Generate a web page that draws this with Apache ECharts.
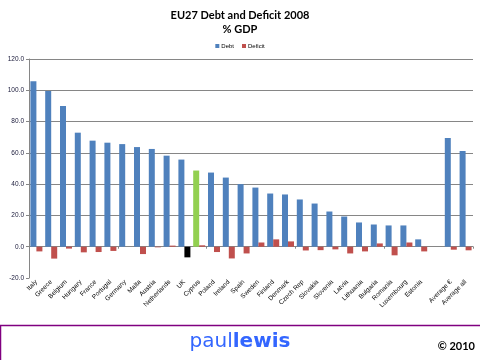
<!DOCTYPE html>
<html><head><meta charset="utf-8">
<script src="https://cdn.jsdelivr.net/npm/echarts@6/dist/echarts.min.js"></script>
<style>html,body{margin:0;padding:0;background:#fff}#c{width:480px;height:360px}</style>
</head><body><div id="c"></div>
<script>
var categories = ['Italy','Greece','Belgium','Hungary','France','Portugal','Germany','Malta','Austria','Netherlands','UK','Cyprus','Poland','Ireland','Spain','Sweden','Finland','Denmark','Czech Rep','Slovakia','Slovenia','Latvia','Lithuania','Bulgaria','Romania','Luxembourg','Estonia','','Average €','Average all'];
var debt = [105.8, 99.6, 89.9, 72.9, 67.8, 66.5, 65.6, 63.7, 62.5, 58.2, 55.7, 48.7, 47.4, 44.2, 40.0, 37.8, 34.0, 33.4, 30.2, 27.6, 22.5, 19.3, 15.5, 14.2, 13.6, 13.6, 4.7, null, 69.5, 61.2];
var deficit = [-3.0, -7.6, -1.2, -3.6, -3.4, -2.7, 0.0, -4.7, -0.4, 0.7, -6.8, 0.9, -3.4, -7.5, -4.3, 2.7, 4.7, 3.4, -2.4, -2.2, -1.7, -4.3, -3.0, 2.1, -5.5, 2.7, -3.0, null, -1.9, -2.3];
var yTicks = {min: -20, max: 120, interval: 20};

var debtData = debt.map(function(v, i){
  return categories[i] === 'Cyprus' ? {value: v, itemStyle: {color: '#92D050'}} : v;
});
var deficitData = deficit.map(function(v, i){
  return categories[i] === 'UK' ? {value: v, itemStyle: {color: '#000000'}} : v;
});
var gridColors = [];
for (var t = yTicks.min; t <= yTicks.max; t += yTicks.interval) gridColors.push(t === yTicks.min ? 'rgba(0,0,0,0)' : '#868686');

var chart = echarts.init(document.getElementById('c'));
chart.setOption({
  animation: false,
  title: {
    text: 'EU27 Debt and Deficit 2008\n% GDP',
    left: 'center', top: 3,
    textStyle: {fontFamily: 'Lato', fontWeight: 'bold', fontSize: 11, lineHeight: 14, color: '#000'}
  },
  legend: {
    data: ['Debt', 'Deficit'], top: 38, left: 'center',
    itemWidth: 4, itemHeight: 4, itemGap: 8, icon: 'rect',
    textStyle: {fontSize: 6, color: '#000', fontFamily: 'Liberation Sans', padding: [0,0,0,-3]}
  },
  grid: {left: 29, right: 7, top: 59, bottom: 82, containLabel: false},
  xAxis: [{
    type: 'category', data: categories, position: 'bottom',
    axisLine: {show: false, onZero: false},
    axisTick: {show: false},
    axisLabel: {rotate: 45, interval: 0, fontSize: 6.5, color: '#000', margin: 3, fontFamily: 'Liberation Sans'}
  }, {
    type: 'category', data: categories, position: 'bottom',
    axisLine: {show: true, onZero: true, lineStyle: {color: '#868686', width: 1}},
    axisTick: {show: true, length: 2, lineStyle: {color: '#868686'}},
    axisLabel: {show: false}
  }],
  yAxis: {
    type: 'value', min: yTicks.min, max: yTicks.max, interval: yTicks.interval,
    axisLine: {show: true, lineStyle: {color: '#868686'}},
    axisTick: {show: true, length: 3, lineStyle: {color: '#868686'}},
    axisLabel: {fontSize: 6.5, color: '#1a1a3a', margin: 5, fontFamily: 'Liberation Sans', formatter: function(v){return v.toFixed(1);}},
    splitLine: {show: true, lineStyle: {color: gridColors, width: 1}}
  },
  series: [
    {name: 'Debt', type: 'bar', xAxisIndex: 0, data: debtData, barWidth: 6, barGap: '0%', itemStyle: {color: '#4F81BD'}},
    {name: 'Deficit', type: 'bar', xAxisIndex: 0, data: deficitData, barWidth: 6, barGap: '0%', itemStyle: {color: '#C0504D'}}
  ],
  graphic: [
    {type: 'rect', shape: {x: 0.5, y: 325.5, width: 482, height: 40}, style: {fill: '#fff', stroke: '#800080', lineWidth: 1.5}},
    {type: 'text', left: 'center', top: 332, style: {
      text: '{a|paul}{b|lewis}',
      rich: {
        a: {fontFamily: 'DejaVu Sans', fontSize: 20, fontWeight: 'normal', fill: '#3366FF'},
        b: {fontFamily: 'DejaVu Sans', fontSize: 20, fontWeight: 'bold', fill: '#3366FF'}
      }
    }},
    {type: 'text', right: 5, top: 341, style: {text: '© 2010', fontFamily: 'Lato', fontWeight: 'bold', fontSize: 11, fill: '#000'}}
  ]
});
</script></body></html>
